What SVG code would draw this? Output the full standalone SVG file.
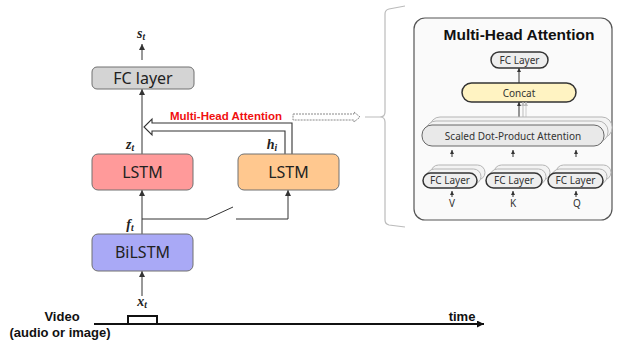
<svg xmlns="http://www.w3.org/2000/svg" width="624" height="344" viewBox="0 0 624 344">
<defs>
<marker id="ah" markerWidth="6" markerHeight="6" refX="6" refY="3" orient="auto" markerUnits="userSpaceOnUse"><path d="M0,0 L6,3 L0,6 z" fill="#333"/></marker>
<marker id="ahs" markerWidth="4" markerHeight="4" refX="4" refY="2" orient="auto" markerUnits="userSpaceOnUse"><path d="M0,0 L4,2 L0,4 z" fill="#333"/></marker>
<marker id="ahg" markerWidth="4" markerHeight="4" refX="4" refY="2" orient="auto" markerUnits="userSpaceOnUse"><path d="M0,0 L4,2 L0,4 z" fill="#bbb"/></marker>
<marker id="ahb" markerWidth="7" markerHeight="7" refX="7" refY="3.5" orient="auto" markerUnits="userSpaceOnUse"><path d="M0,0 L7,3.5 L0,7 z" fill="#111"/></marker>
</defs>
<style>
.box{stroke:#707070;stroke-width:1}
.lbl{font-family:"Noto Sans","Open Sans",sans-serif;font-size:16px;fill:#222;text-anchor:middle}
.math{font-family:"Liberation Serif",serif;font-style:italic;font-weight:bold;font-size:14px;fill:#222;text-anchor:middle}
.sub{font-size:9.5px}
.conn{stroke:#333;stroke-width:1;fill:none}
.bold{font-family:"Liberation Sans",Arial,sans-serif;font-weight:bold;font-size:13px;fill:#111}
.pill{fill:#eeeeee;stroke:#333;stroke-width:1.5}
.shadow{fill:#f3f3f3;stroke:#b5b5b5;stroke-width:1}
.small{font-family:"Noto Sans","Open Sans",sans-serif;font-size:10px;fill:#333;text-anchor:middle}
</style>

<g id="connectors">
  <line class="conn" x1="142" y1="60" x2="142" y2="44" marker-end="url(#ah)"/>
  <line class="conn" x1="142" y1="154" x2="142" y2="89" marker-end="url(#ah)"/>
  <line class="conn" x1="142" y1="234" x2="142" y2="190" marker-end="url(#ah)"/>
  <line class="conn" x1="142" y1="296" x2="142" y2="271" marker-end="url(#ah)"/>
  <polyline class="conn" points="142,219 207,219 233,207"/>
  <polyline class="conn" points="236,219 288,219 288,190" marker-end="url(#ah)"/>
  <path d="M285,154 L285,131 L152,131 L152,135 L144,127 L152,119 L152,123 L292,123 L292,154" fill="#fff" stroke="#333" stroke-width="1.1"/>
  <path d="M293,114 L354,114 L354,112 L360,117 L354,122 L354,120 L293,120 Z" fill="none" stroke="#888" stroke-width="1" stroke-dasharray="2,1"/>
  <path d="M405,6 L389,9 Q385,10 385,14 L385,112 Q385,117 380,117 L365,117 M380,117 Q385,117 385,122 L385,220 Q385,224 389,225 L405,227" fill="none" stroke="#bbb" stroke-width="1.2"/>
  <line x1="94" y1="324" x2="484" y2="324" stroke="#111" stroke-width="1.8" marker-end="url(#ahb)"/>
  <polyline points="128,324 128,316 157,316 157,324" fill="none" stroke="#111" stroke-width="2"/>
</g>

<g id="st"><text class="math" x="141" y="38">s<tspan class="sub" dy="2">t</tspan></text></g>
<g id="fc">
  <rect class="box" x="92" y="67" width="102" height="22" rx="5" fill="#d4d4d4"/>
  <text class="lbl" x="143" y="84">FC layer</text>
</g>
<g id="zt"><text class="math" x="130" y="149">z<tspan class="sub" dy="2">t</tspan></text></g>
<g id="hi"><text class="math" x="272" y="149">h<tspan class="sub" dy="2">i</tspan></text></g>
<g id="mha-label"><text x="226" y="120" font-family="Liberation Sans,Arial,sans-serif" font-weight="bold" font-size="11.5px" fill="#f01010" text-anchor="middle">Multi-Head Attention</text></g>
<g id="lstm1">
  <rect class="box" x="92" y="154" width="101" height="36" rx="6" fill="#ff9a9a"/>
  <text class="lbl" x="142.5" y="178">LSTM</text>
</g>
<g id="lstm2">
  <rect class="box" x="238" y="154" width="101" height="36" rx="6" fill="#ffc88f"/>
  <text class="lbl" x="288.5" y="178">LSTM</text>
</g>
<g id="ft"><text class="math" x="130" y="229">f<tspan class="sub" dy="2">t</tspan></text></g>
<g id="bilstm">
  <rect class="box" x="92" y="234" width="101" height="37" rx="6" fill="#a9a9f6"/>
  <text class="lbl" x="142.5" y="258">BiLSTM</text>
</g>
<g id="xt"><text class="math" x="142" y="306">x<tspan class="sub" dy="2">t</tspan></text></g>
<g id="video">
  <text class="bold" x="62" y="321" text-anchor="middle">Video</text>
  <text class="bold" x="60" y="337" text-anchor="middle">(audio or image)</text>
</g>
<g id="time"><text class="bold" x="462" y="321" text-anchor="middle">time</text></g>

<g id="inset">
  <rect x="414" y="18" width="198" height="202" rx="11" fill="#fafafa" stroke="#555" stroke-width="1.2"/>
  <text x="519" y="40" font-family="Liberation Sans,Arial,sans-serif" font-weight="bold" font-size="15.5px" fill="#111" text-anchor="middle">Multi-Head Attention</text>
  <g id="fc-top">
    <rect class="pill" x="491" y="52" width="57" height="16" rx="8"/>
    <text class="small" x="519.5" y="63.5">FC Layer</text>
  </g>
  <line class="conn" x1="519" y1="83" x2="519" y2="68" marker-end="url(#ahs)"/>
  <g id="concat">
    <rect x="462" y="83" width="114" height="19" rx="9.5" fill="#fff3c2" stroke="#333" stroke-width="1.5"/>
    <text class="small" x="519" y="96.5" font-size="10.5px">Concat</text>
  </g>
  <line x1="526" y1="118" x2="526" y2="102" stroke="#ccc" stroke-width="1" marker-end="url(#ahg)"/>
  <line x1="523" y1="120" x2="523" y2="102" stroke="#bbb" stroke-width="1" marker-end="url(#ahg)"/>
  <line class="conn" x1="519" y1="125" x2="519" y2="102" marker-end="url(#ahs)"/>
  <g id="sdpa">
    <rect class="shadow" x="430" y="117" width="182" height="21" rx="10"/>
    <rect class="shadow" x="426" y="121" width="182" height="21" rx="10"/>
    <rect x="422" y="125" width="182" height="21" rx="10" fill="#e9e9e9" stroke="#666" stroke-width="1"/>
    <text class="small" x="513" y="139.5" font-size="10.5px">Scaled Dot-Product Attention</text>
  </g>
  <line class="conn" x1="452" y1="157" x2="452" y2="150" marker-end="url(#ahs)"/>
  <line class="conn" x1="513" y1="157" x2="513" y2="150" marker-end="url(#ahs)"/>
  <line class="conn" x1="576" y1="157" x2="576" y2="150" marker-end="url(#ahs)"/>
  <g id="fc-v">
    <rect class="shadow" x="431" y="165" width="54" height="15" rx="7.5"/>
    <rect class="shadow" x="427" y="169" width="54" height="15" rx="7.5"/>
    <rect class="pill" x="423" y="173" width="54" height="15" rx="7.5"/>
    <text class="small" x="450" y="184">FC Layer</text>
  </g>
  <g id="fc-k">
    <rect class="shadow" x="494" y="165" width="56" height="15" rx="7.5"/>
    <rect class="shadow" x="490" y="169" width="56" height="15" rx="7.5"/>
    <rect class="pill" x="486" y="173" width="56" height="15" rx="7.5"/>
    <text class="small" x="514" y="184">FC Layer</text>
  </g>
  <g id="fc-q">
    <rect class="shadow" x="556" y="165" width="55" height="15" rx="7.5"/>
    <rect class="shadow" x="552" y="169" width="55" height="15" rx="7.5"/>
    <rect class="pill" x="548" y="173" width="55" height="15" rx="7.5"/>
    <text class="small" x="575.5" y="184">FC Layer</text>
  </g>
  <line class="conn" x1="452" y1="197" x2="452" y2="191" marker-end="url(#ahs)"/>
  <line class="conn" x1="513" y1="197" x2="513" y2="191" marker-end="url(#ahs)"/>
  <line class="conn" x1="576" y1="197" x2="576" y2="191" marker-end="url(#ahs)"/>
  <text class="small" x="452" y="207">V</text>
  <text class="small" x="513" y="207">K</text>
  <text class="small" x="577" y="207">Q</text>
</g>
</svg>
